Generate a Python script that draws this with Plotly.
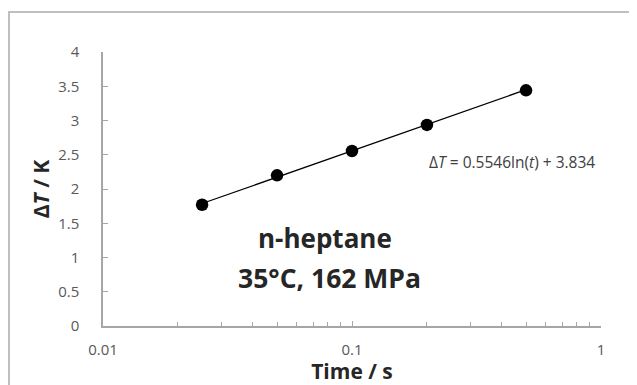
import math
import plotly.graph_objects as go

# Data
time_s = [0.025, 0.05, 0.1, 0.2, 0.5]
delta_T = [1.77, 2.20, 2.555, 2.935, 3.44]

# Trendline coefficients shown on the chart: dT = a*ln(t) + b
fit_slope = 0.5546
fit_intercept = 3.834

x_tickvals = [0.01, 0.1, 1]
x_ticktext = ["0.01", "0.1", "1"]
y_tickvals = [0, 0.5, 1, 1.5, 2, 2.5, 3, 3.5, 4]
y_ticktext = ["0", "0.5", "1", "1.5", "2", "2.5", "3", "3.5", "4"]

fit_y = [fit_slope * math.log(t) + fit_intercept for t in time_s]

FONT = "Open Sans"
AX = "#a6a6a6"
TXT = "#595959"
DARK = "#262626"

# The page body has an 8px margin, so the figure is drawn 8px smaller and
# all reference pixel positions are shifted by that offset.
OFF = 8
W, H = 637 - OFF, 385 - OFF
L, T = 103 - OFF, 52 - OFF
R = W - (601 - OFF)
B = H - (326 - OFF)
PW, PH = W - L - R, H - T - B


def px(x):
    return (x - OFF - L) / PW


def py(y):
    return (H - B - (y - OFF)) / PH


fig = go.Figure()
fig.add_trace(go.Scatter(x=time_s, y=fit_y, mode="lines",
                         line=dict(color="black", width=1.3), hoverinfo="skip"))
fig.add_trace(go.Scatter(x=time_s, y=delta_T, mode="markers",
                         marker=dict(color="black", size=12.5)))

fig.update_layout(
    width=W, height=H,
    margin=dict(l=L, r=R, t=T, b=B),
    paper_bgcolor="white", plot_bgcolor="white",
    showlegend=False,
    font=dict(family=FONT, color=TXT, size=15),
)
fig.update_xaxes(
    type="log", range=[-2, 0], automargin=False,
    tickvals=x_tickvals, ticktext=x_ticktext,
    ticks="inside", ticklen=5, tickcolor=AX, tickwidth=1,
    minor=dict(ticks="inside", ticklen=4, tickcolor=AX, dtick="D1", showgrid=False),
    showline=True, linecolor=AX, linewidth=1.5,
    showgrid=False, zeroline=False,
    ticklabelstandoff=9,
    tickfont=dict(family=FONT, size=15, color=TXT),
    title=dict(text="<b>Time / s</b>", font=dict(family=FONT, size=21, color=DARK), standoff=9),
)
fig.update_yaxes(
    range=[0, 4], automargin=False,
    tickvals=y_tickvals, ticktext=y_ticktext,
    ticks="inside", ticklen=5, tickcolor=AX, tickwidth=1,
    showline=True, linecolor=AX, linewidth=1.5,
    showgrid=False, zeroline=False,
    ticklabelstandoff=19,
    tickfont=dict(family=FONT, size=15, color=TXT),
    title=dict(text="<b>Δ<i>T</i> / K</b>", font=dict(family=FONT, size=21, color=DARK), standoff=3),
)

# outer chart border (only left and top edges visible in the reference)
fig.add_shape(type="rect", xref="paper", yref="paper",
              x0=px(9), x1=px(660), y0=py(400), y1=py(12),
              line=dict(color="#bfbfbf", width=2), fillcolor="rgba(0,0,0,0)", layer="below")

fig.add_annotation(xref="paper", yref="paper", x=px(325), y=py(258),
                   text="<b>n-heptane</b>", showarrow=False,
                   font=dict(family=FONT, size=26, color=DARK))
fig.add_annotation(xref="paper", yref="paper", x=px(329), y=py(298),
                   text="<b>35°C, 162 MPa</b>", showarrow=False,
                   font=dict(family=FONT, size=26.5, color=DARK))
fig.add_annotation(xref="paper", yref="paper", x=px(427), y=py(162), xanchor="left",
                   text="Δ<i>T</i> = 0.5546ln(<i>t</i>) + 3.834",
                   showarrow=False,
                   font=dict(family=FONT, size=15.5, color="#404040"))

fig.write_html("out.html")
